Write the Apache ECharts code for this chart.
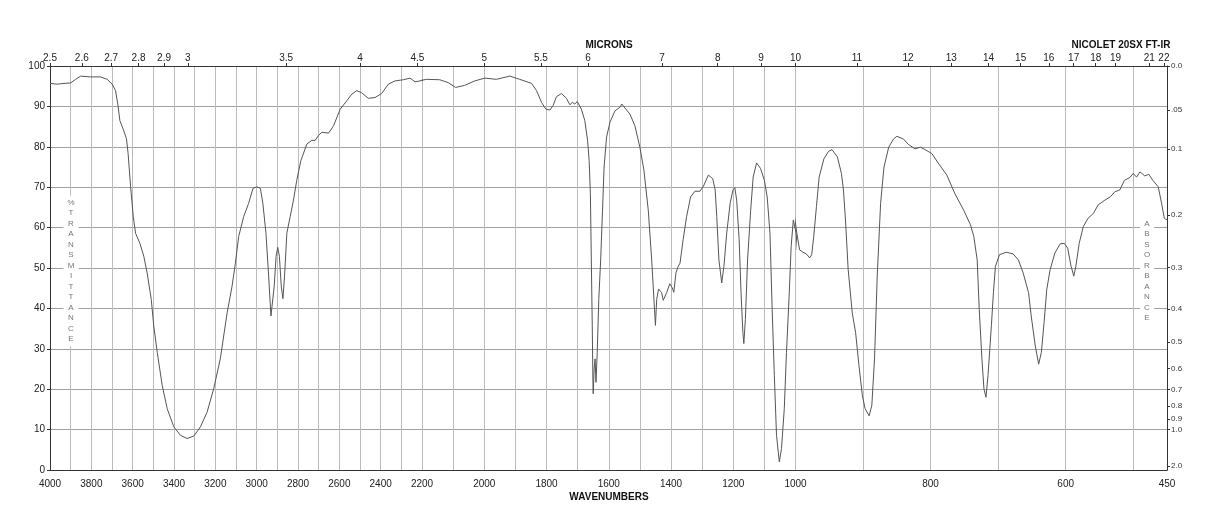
<!DOCTYPE html>
<html>
<head>
<meta charset="utf-8">
<script src="https://cdn.jsdelivr.net/npm/echarts@6.0.0/dist/echarts.min.js"></script>
<style>
html, body { margin: 0; padding: 0; background: #fff; }
#ir { width: 1218px; height: 528px; }
</style>
</head>
<body>
<div id="ir"></div>
<script>
// spectrum: wavenumber (cm-1) and %T
var wavenumbers = [
  4000, 3965, 3932, 3900, 3876, 3852, 3804, 3755, 3723, 3699, 3683, 3672, 3662, 3646, 3630, 3622,
  3610, 3597, 3586, 3565, 3546, 3530, 3510, 3498, 3481, 3457, 3433, 3401, 3369, 3337, 3304, 3272,
  3240, 3208, 3176, 3143, 3119, 3103, 3087, 3063, 3039, 3018, 2999, 2982, 2970, 2955, 2942, 2931,
  2926, 2915, 2906, 2898, 2890, 2881, 2873, 2865, 2854, 2838, 2822, 2806, 2786, 2757, 2733, 2717,
  2701, 2685, 2652, 2628, 2596, 2564, 2540, 2516, 2492, 2460, 2427, 2395, 2363, 2331, 2290, 2258,
  2234, 2210, 2186, 2143, 2116, 2092, 2063, 2031, 1998, 1961, 1918, 1886, 1848, 1832, 1816, 1802,
  1789, 1779, 1768, 1752, 1736, 1725, 1717, 1709, 1701, 1688, 1677, 1668, 1663, 1659, 1656, 1653,
  1651, 1650, 1647, 1644, 1641, 1637, 1632, 1626, 1620, 1615, 1607, 1596, 1580, 1564, 1558, 1548,
  1532, 1516, 1500, 1487, 1473, 1462, 1453, 1450, 1446, 1440, 1430, 1425, 1414, 1404, 1396, 1391,
  1384, 1377, 1371, 1361, 1350, 1337, 1323, 1307, 1296, 1280, 1266, 1258, 1253, 1246, 1237, 1230,
  1221, 1210, 1201, 1195, 1189, 1181, 1175, 1169, 1166, 1161, 1154, 1144, 1136, 1125, 1112, 1100,
  1091, 1082, 1075, 1068, 1061, 1052, 1045, 1036, 1029, 1020, 1014, 1007, 1001, 998, 994, 989,
  984, 979, 976, 973, 969, 965, 958, 951, 946, 938, 932, 929, 926, 922, 916, 911,
  906, 901, 897, 891, 887, 883, 879, 874, 869, 862, 855, 850, 840, 833, 823, 815,
  808, 798, 788, 776, 764, 751, 741, 736, 731, 728, 724, 721, 718, 715, 710, 707,
  704, 698, 688, 678, 670, 663, 655, 651, 645, 640, 636, 632, 628, 623, 616, 608,
  602, 597, 592, 588, 585, 580, 574, 567, 559, 552, 542, 534, 527, 520, 513, 505,
  500, 495, 490, 483, 477, 471, 463, 458, 454, 450
];
var transmittance = [
  95.7, 95.5, 95.7, 95.8, 96.7, 97.5, 97.3, 97.3, 96.7, 95.5, 93.9, 90.6, 86.5, 84.4, 82.0, 78.3,
  70.1, 62.7, 58.6, 56.1, 52.9, 48.8, 42.2, 35.7, 29.1, 20.9, 15.2, 10.7, 8.6, 7.8, 8.4, 10.7,
  14.3, 20.1, 27.5, 38.9, 45.5, 51.2, 57.8, 62.7, 66.0, 69.7, 70.1, 69.7, 66.0, 58.6, 48.0, 38.1,
  38.1, 45.5, 52.9, 55.1, 52.9, 45.5, 42.4, 48.0, 58.6, 62.7, 66.8, 71.7, 76.6, 80.7, 81.6, 81.6,
  82.8, 83.6, 83.4, 85.2, 89.3, 91.4, 93.0, 93.9, 93.4, 92.0, 92.2, 93.2, 95.5, 96.3, 96.6, 97.0,
  96.1, 96.3, 96.7, 96.6, 95.9, 94.7, 95.2, 96.3, 97.0, 96.7, 97.5, 96.7, 95.7, 93.9, 91.0, 89.3,
  89.1, 90.2, 92.4, 93.2, 92.0, 90.4, 91.0, 90.6, 91.2, 89.3, 86.5, 81.6, 76.6, 68.4, 52.0, 35.7,
  22.5, 18.9, 25.0, 27.5, 21.7, 29.1, 42.2, 52.0, 64.3, 75.0, 82.4, 86.1, 88.9, 89.8, 90.6, 89.6,
  88.1, 85.2, 79.9, 74.2, 64.3, 52.0, 39.8, 35.8, 42.2, 44.8, 43.9, 42.0, 43.9, 46.1, 45.1, 44.0,
  48.8, 50.4, 51.2, 57.0, 62.7, 67.6, 69.0, 69.0, 70.2, 73.0, 72.1, 69.3, 62.7, 52.0, 46.3, 50.4,
  58.6, 66.0, 69.3, 69.9, 66.8, 57.0, 43.9, 34.0, 31.3, 37.3, 52.0, 64.3, 72.5, 76.0, 74.6, 71.7,
  67.6, 58.6, 39.8, 23.4, 8.6, 2.0, 5.3, 15.2, 29.1, 43.9, 55.3, 61.9, 62.3, 58.6, 54.5, 53.9,
  53.5, 52.5, 53.3, 57.8, 65.2, 72.5, 77.0, 78.9, 79.3, 77.5, 73.4, 69.3, 61.9, 49.6, 38.9, 34.0,
  25.8, 18.4, 15.2, 13.4, 16.0, 27.5, 48.0, 66.0, 75.0, 79.9, 81.9, 82.6, 81.9, 80.6, 79.5, 79.9,
  79.3, 78.3, 75.8, 73.0, 68.4, 64.3, 60.7, 57.8, 52.0, 39.8, 27.5, 20.1, 18.0, 23.4, 35.7, 43.9,
  50.4, 53.3, 53.9, 53.5, 52.0, 48.8, 43.9, 38.1, 30.7, 26.2, 29.1, 36.5, 44.7, 49.6, 53.7, 56.0,
  56.1, 54.9, 50.4, 48.0, 50.4, 56.1, 60.2, 62.3, 63.5, 65.6, 66.8, 67.6, 68.9, 69.3, 71.7, 72.4,
  73.4, 72.5, 73.8, 72.8, 73.2, 71.7, 70.1, 66.0, 62.3, 61.9
];

// tick labels
var microns = [2.5, 2.6, 2.7, 2.8, 2.9, 3, 3.5, 4, 4.5, 5, 5.5, 6, 7, 8, 9, 10, 11, 12, 13, 14, 15, 16, 17, 18, 19, 21, 22];
var absorbanceTicks = [0, 0.05, 0.1, 0.2, 0.3, 0.4, 0.5, 0.6, 0.7, 0.8, 0.9, 1.0, 2.0];
var waveLabels = [
  [4000, 3800, 3600, 3400, 3200, 3000, 2800, 2600, 2400, 2200],
  [2000, 1800, 1600, 1400, 1200, 1000],
  [800, 600, 450]
];
// the wavenumber axis is piecewise linear: three equal-width panels
var segments = [[2200, 4000], [1000, 2200], [450, 1000]];

var font = 'Liberation Sans';
var gridLeft = [50, 422, 795.5];
var gridWidth = [372, 373.5, 371.5];
var plotTop = 66, plotHeight = 404;

var points = wavenumbers.map(function (w, i) { return [w, transmittance[i]]; });
var absT = absorbanceTicks.map(function (a) { return 100 * Math.pow(10, -a); });

var grids = [], xAxes = [], yAxes = [], series = [];
var topAxes = [];
segments.forEach(function (seg, i) {
  var gridTicks = [];
  for (var w = seg[1]; w >= seg[0]; w -= 100) gridTicks.push(w);
  if (gridTicks[gridTicks.length - 1] !== seg[0]) gridTicks.push(seg[0]);
  var micronWn = microns.map(function (m) { return 10000 / m; })
    .filter(function (w) { return w > seg[0] && w <= seg[1]; });

  grids.push({
    left: gridLeft[i], width: gridWidth[i], top: plotTop, height: plotHeight,
    containLabel: false, outerBoundsMode: 'none'
  });
  xAxes.push({
    gridIndex: i, type: 'value', inverse: true, min: seg[0], max: seg[1], position: 'bottom',
    axisLine: { show: true, onZero: false, lineStyle: { color: '#333', width: 1 } },
    axisTick: { show: false, customValues: gridTicks },
    axisLabel: {
      customValues: waveLabels[i], fontSize: 10, color: '#222', fontFamily: font, margin: 9,
      formatter: function (v) { return String(v); }
    },
    splitLine: { show: true, lineStyle: { color: '#bbb', width: 1 } }
  });
  topAxes.push({
    gridIndex: i, type: 'value', inverse: true, min: seg[0], max: seg[1], position: 'top',
    axisLine: { show: true, onZero: false, lineStyle: { color: '#333', width: 1 } },
    axisTick: { show: true, inside: false, customValues: micronWn, length: 3, lineStyle: { color: '#333' } },
    axisLabel: {
      customValues: micronWn, fontSize: 10, color: '#222', fontFamily: font, margin: 3,
      formatter: function (v) { return String(+(10000 / v).toFixed(1)); }
    },
    splitLine: { show: false }
  });
  yAxes.push({
    gridIndex: i, type: 'value', min: 0, max: 100, interval: 10,
    axisLine: { show: i === 0, onZero: false, lineStyle: { color: '#333', width: 1 } },
    axisTick: { show: i === 0, length: 3, lineStyle: { color: '#333' } },
    axisLabel: { show: i === 0, fontSize: 10, color: '#222', fontFamily: font, margin: 5 },
    splitLine: { show: true, lineStyle: { color: '#a0a0a0', width: 1 } }
  });
  series.push({
    type: 'line', xAxisIndex: i, yAxisIndex: i, data: points,
    showSymbol: false, clip: true, smooth: false,
    lineStyle: { color: '#555', width: 1 }
  });
});
xAxes = xAxes.concat(topAxes);

// absorbance scale on the right
yAxes.push({
  gridIndex: 2, type: 'value', min: 0, max: 100, position: 'right',
  axisLine: { show: true, onZero: false, lineStyle: { color: '#333', width: 1 } },
  axisTick: { show: true, customValues: absT, length: 3, lineStyle: { color: '#333' } },
  axisLabel: {
    customValues: absT, fontSize: 8, color: '#333', fontFamily: font, margin: 4,
    formatter: function (v) {
      var a = -Math.log10(v / 100);
      if (Math.abs(a - 0.05) < 0.001) return '.05';
      return Math.abs(a).toFixed(1);
    }
  },
  splitLine: { show: false }
});

function vtext(str, x, y) {
  return {
    type: 'text', z: 100, x: x, y: y,
    style: {
      text: str.split('').join('\n'), fill: '#777', font: '8px "Liberation Sans"',
      lineHeight: 10.5, align: 'center', verticalAlign: 'middle',
      textAlign: 'center', textVerticalAlign: 'middle',
      backgroundColor: '#fff', padding: [2, 4]
    }
  };
}
function title(str, x, y) {
  return {
    type: 'text', z: 100, x: x, y: y,
    style: {
      text: str, fill: '#111', font: 'bold 10px "Liberation Sans"',
      align: 'center', verticalAlign: 'middle', textAlign: 'center', textVerticalAlign: 'middle'
    }
  };
}

var chart = echarts.init(document.getElementById('ir'));
chart.setOption({
  animation: false,
  backgroundColor: '#fff',
  grid: grids,
  xAxis: xAxes,
  yAxis: yAxes,
  series: series,
  graphic: [
    title('MICRONS', 609, 45),
    title('NICOLET 20SX FT-IR', 1121, 45),
    title('WAVENUMBERS', 609, 497),
    vtext('%TRANSMITTANCE', 71, 271),
    vtext('ABSORBANCE', 1147, 271)
  ]
});
</script>
</body>
</html>
